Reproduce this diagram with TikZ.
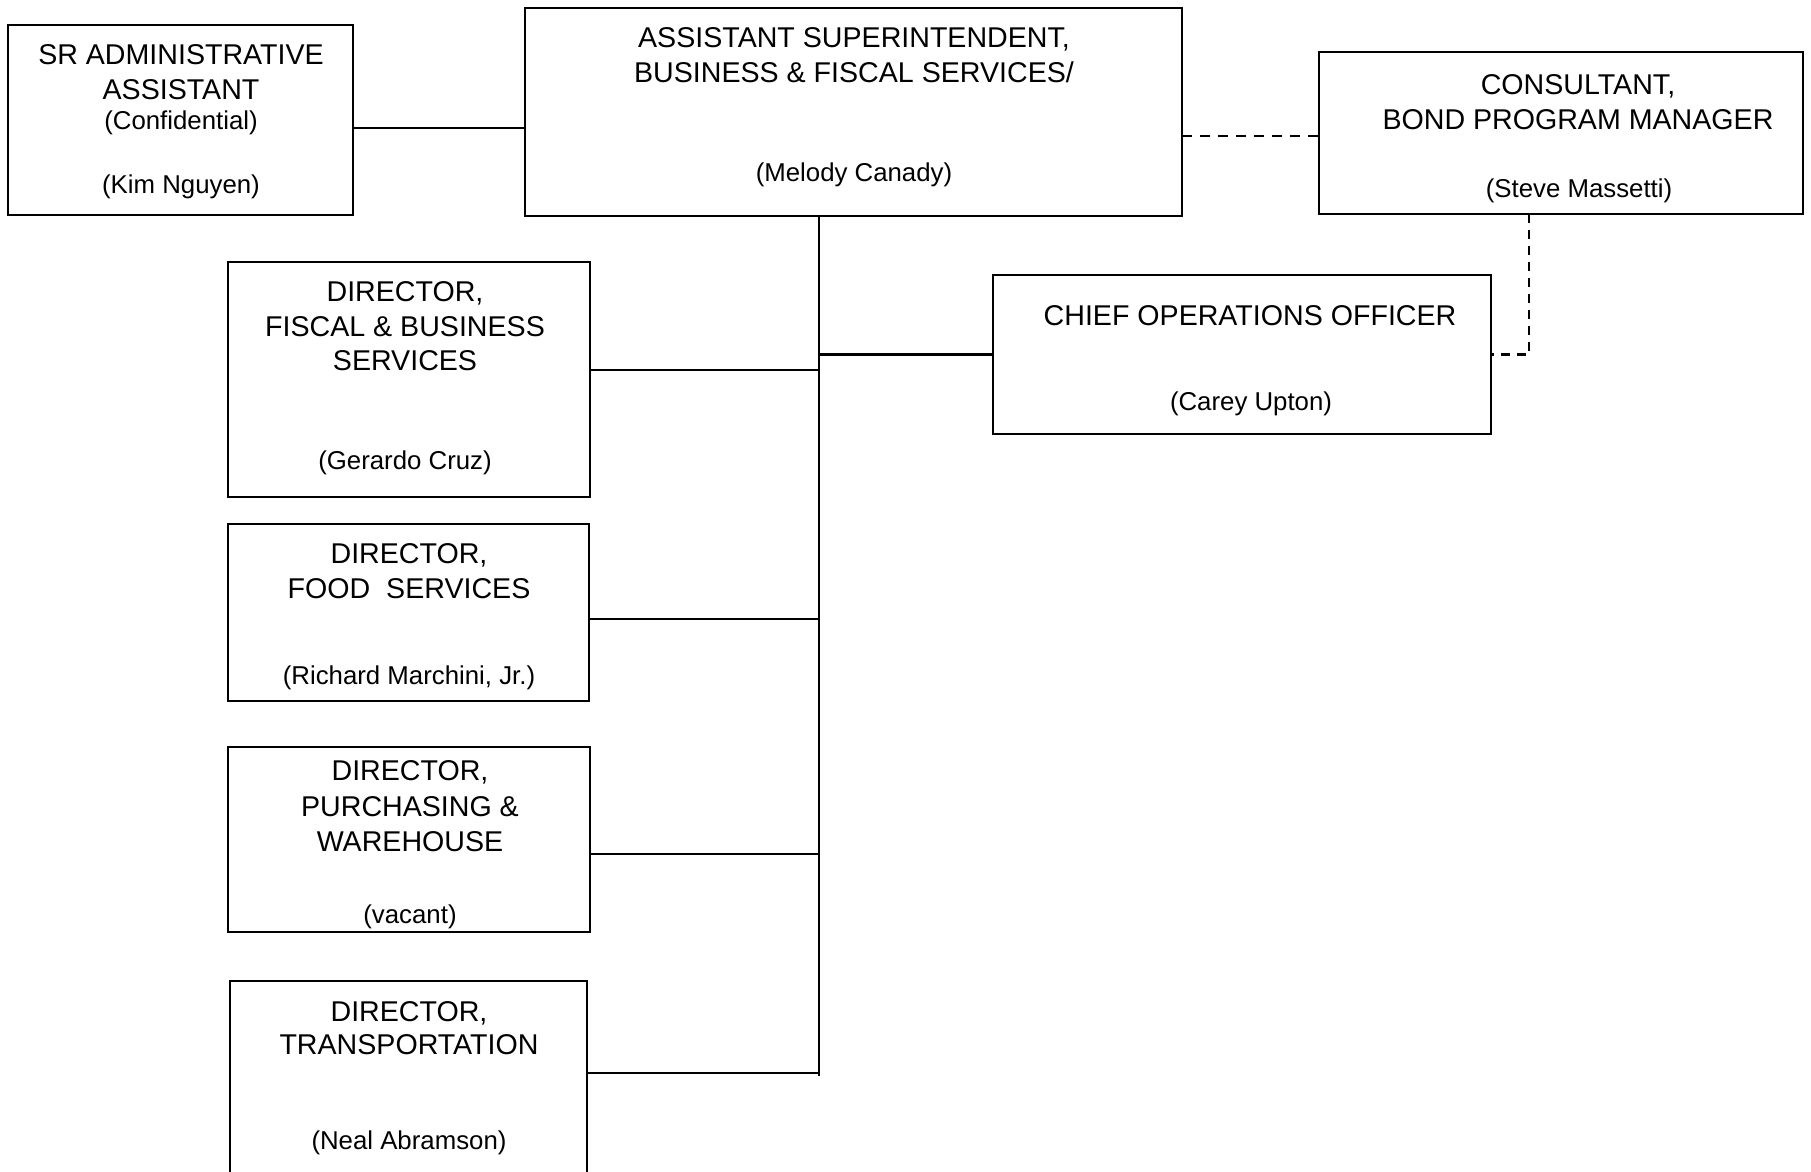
\documentclass[tikz,border=0pt]{standalone}
\usepackage{fontspec}
\setmainfont{Liberation Sans}
\begin{document}
\begin{tikzpicture}[x=1pt,y=-1pt,
  box/.style={draw,line width=2.3pt,inner sep=0pt,outer sep=0pt,rectangle},
  ttl/.style={anchor=base,inner sep=0pt,font=\fontsize{28.6}{34.6}\selectfont},
  nm/.style={anchor=base,inner sep=0pt,font=\fontsize{25.8}{31}\selectfont},
  conn/.style={line width=2.3pt},
  dconn/.style={line width=2.3pt,dash pattern=on 10pt off 8pt}]
\useasboundingbox[fill=white] (0,0) rectangle (1811,1171);
% boxes
\node[box,minimum width=345pt,minimum height=190pt] (sr) at (180.5,120) {};
\node[box,minimum width=657pt,minimum height=208pt] (asst) at (853.5,112) {};
\node[box,minimum width=484pt,minimum height=162pt] (cons) at (1561,133) {};
\node[box,minimum width=498pt,minimum height=159pt] (coo) at (1242,354.5) {};
\node[box,minimum width=362pt,minimum height=235pt] (fisc) at (409,379.5) {};
\node[box,minimum width=361pt,minimum height=177pt] (food) at (408.5,612.5) {};
\node[box,minimum width=362pt,minimum height=185pt] (purch) at (409,839.5) {};
\node[box,minimum width=357pt,minimum height=204pt] (trans) at (408.5,1083) {};
% texts
\node[ttl] (srA) at (181,64) {SR ADMINISTRATIVE};
\node[ttl] (srB) at (181,99) {ASSISTANT};
\node[nm] (srC) at (181,129) {(Confidential)};
\node[nm] (srD) at (181,193.5) {(Kim Nguyen)};
\node[ttl] (asA) at (854,47) {ASSISTANT SUPERINTENDENT,};
\node[ttl] (asB) at (854,82) {BUSINESS \& FISCAL SERVICES/};
\node[nm] (asC) at (854,181.5) {(Melody Canady)};
\node[ttl] (coA) at (1578,94) {CONSULTANT,};
\node[ttl] (coB) at (1578,129) {BOND PROGRAM MANAGER};
\node[nm] (coC) at (1579,197.5) {(Steve Massetti)};
\node[ttl] (ooA) at (1250,325) {CHIEF OPERATIONS OFFICER};
\node[nm] (ooB) at (1251,410.5) {(Carey Upton)};
\node[ttl] (fiA) at (405,301) {DIRECTOR,};
\node[ttl] (fiB) at (405,336) {FISCAL \& BUSINESS};
\node[ttl] (fiC) at (405,370) {SERVICES};
\node[nm] (fiD) at (405,469.5) {(Gerardo Cruz)};
\node[ttl] (foA) at (409,563) {DIRECTOR,};
\node[ttl] (foB) at (409,598) {FOOD\ \ SERVICES};
\node[nm] (foC) at (409,684.5) {(Richard Marchini, Jr.)};
\node[ttl] (puA) at (410,780) {DIRECTOR,};
\node[ttl] (puB) at (410,816) {PURCHASING \&};
\node[ttl] (puC) at (410,851) {WAREHOUSE};
\node[nm] (puD) at (410,923.5) {(vacant)};
\node[ttl] (trA) at (409,1021) {DIRECTOR,};
\node[ttl] (trB) at (409,1054) {TRANSPORTATION};
\node[nm] (trC) at (409,1149.5) {(Neal Abramson)};
% connectors
\coordinate (tb) at (819,1076);
\coordinate (kx) at (1529,0);
\draw[conn] (asst.south -| tb) -- (tb);
\draw[conn] ([yshift=-8pt]sr.east) -- ([yshift=-8pt]sr.east -| asst.west);
\draw[dconn] ([yshift=-3pt]cons.west -| asst.east) -- ([yshift=-3pt]cons.west);
\draw[conn] (coo.west) -- (coo.west -| tb);
\draw[conn] ([yshift=9.5pt]fisc.east) -- ([yshift=9.5pt]fisc.east -| tb);
\draw[conn] ([yshift=-6.5pt]food.east) -- ([yshift=-6.5pt]food.east -| tb);
\draw[conn] ([yshift=-14.5pt]purch.east) -- ([yshift=-14.5pt]purch.east -| tb);
\draw[conn] ([yshift=10pt]trans.east) -- ([yshift=10pt]trans.east -| tb);
\draw[line width=2.3pt,dash pattern=on 9pt off 7pt] (cons.south -| kx) |- (coo.east);
\end{tikzpicture}
\end{document}
